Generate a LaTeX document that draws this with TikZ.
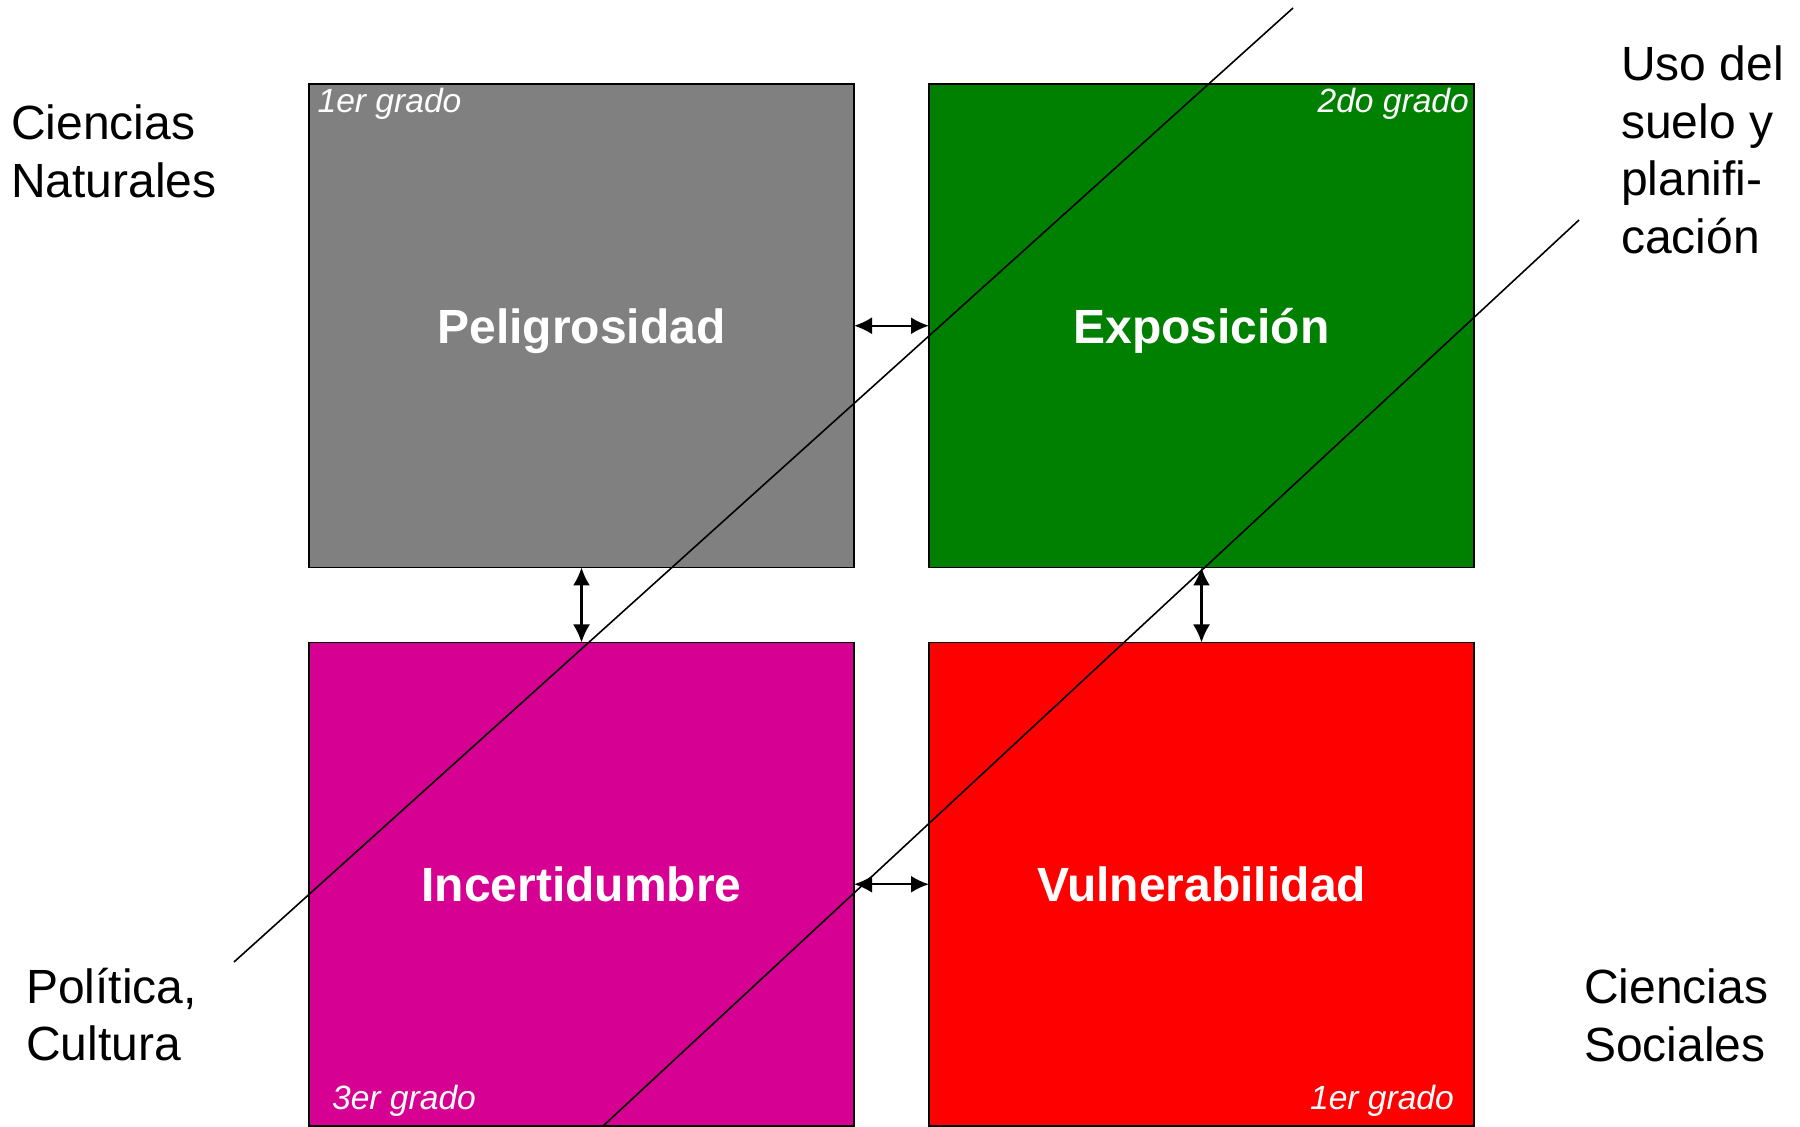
\documentclass[tikz,border=0pt]{standalone}
\usepackage{fontspec}
\setmainfont{Liberation Sans}
\usetikzlibrary{arrows.meta}
\definecolor{hazgray}{RGB}{128,128,128}
\definecolor{expgreen}{RGB}{0,128,0}
\definecolor{incmag}{RGB}{214,0,147}
\definecolor{vulred}{RGB}{255,0,0}
\begin{document}
\begin{tikzpicture}[x=0.5pt,y=-0.5pt,<->,>={Latex[length=9pt,width=8.5pt]},line width=1.1pt,node distance=310pt]
\tikzstyle{box}=[draw=black,line width=0.75pt,minimum width=272.5pt,minimum height=241.75pt,inner sep=0pt,outer sep=0pt,text depth=0pt,text=white,font=\fontsize{24}{28}\selectfont\bfseries]
\tikzstyle{grade}=[text=white,inner sep=0pt,font=\fontsize{16.8}{20}\selectfont\itshape]
\tikzstyle{side}=[align=left,inner sep=0pt,anchor=north west,font=\fontsize{24}{28.75}\selectfont]
\useasboundingbox (0,0) rectangle (1800,1127);
\node[box,fill=hazgray] (haz) at (581.5,325.75) {Peligrosidad};
\node[box,fill=expgreen][right of=haz] (expo) {Exposición};
\node[box,fill=incmag][below of=haz,node distance=279.25pt] (inc) {Incertidumbre};
\node[box,fill=vulred][right of=inc] (vul) {Vulnerabilidad};
\node[grade,anchor=base west] (g1) at ([shift={(7.5,29)}]haz.north west) {1er grado};
\node[grade,anchor=base east] (g2) at ([shift={(-4,29)}]expo.north east) {2do grado};
\node[grade,anchor=base west] (g3) at ([shift={(22,-17)}]inc.south west) {3er grado};
\node[grade,anchor=base east] (g4) at ([shift={(-19,-17)}]vul.south east) {1er grado};
\path (haz) edge (expo)
      (haz) edge (inc)
      (expo) edge (vul)
      (inc) edge (vul);
% diagonal dividers
\coordinate (ctop) at (1293,8);
\coordinate (cbot) at (234,962);
\coordinate (ltop) at (1579,220);
\coordinate (lbot) at (602,1127);
\draw[-,line width=0.8pt] (ctop) -- (cbot);
\draw[-,line width=0.8pt] (ltop) -- (lbot);
\node[side] (natlabel) at (10,104) {Ciencias\\Naturales};
\node[side] (landlabel) at (1620,45) {Uso del\\suelo y\\planifi-\\cación};
\node[side] (pollabel) at (25,967) {Política,\\Cultura};
\node[side] (soclabel) at (1583,968) {Ciencias\\Sociales};
\end{tikzpicture}
\end{document}
